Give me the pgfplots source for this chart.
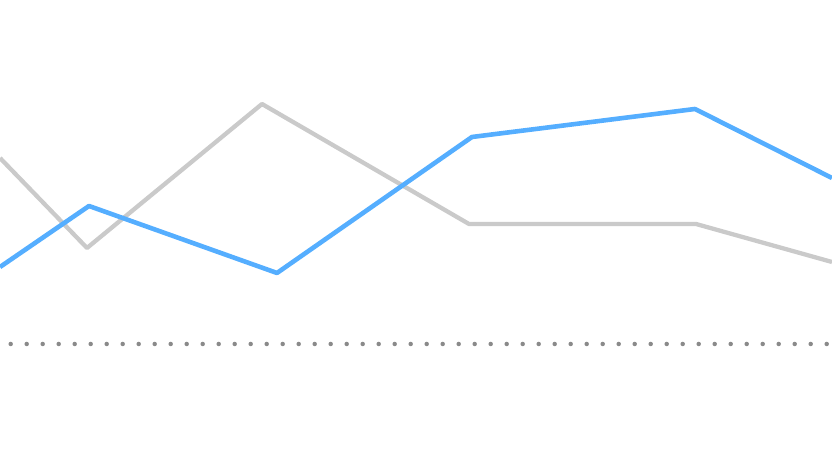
\documentclass[border=0pt]{standalone}
\usepackage{pgfplots}
\pgfplotsset{compat=1.18}
\definecolor{lineblue}{HTML}{55AEFF}
\definecolor{linegray}{HTML}{CACACA}
\definecolor{dotgray}{HTML}{8A8A8A}
\begin{document}
\begin{tikzpicture}
\begin{axis}[
    hide axis,
    scale only axis,
    width=8.32cm, height=4.68cm,
    xmin=0, xmax=832,
    ymin=0, ymax=468,
    y dir=reverse,
    clip=true,
    every axis plot/.append style={line join=round, mark=none},
]
% baseline dots
\addplot[dotgray, line width=0.045cm, line cap=round, dash pattern=on 0pt off 0.16cm]
    coordinates {(10.7,344) (832,344)};
% gray series
\addplot[linegray, line width=0.043cm]
    coordinates {(0,158) (87,248) (262,104) (469,224) (696,224) (832,262)};
% blue series
\addplot[lineblue, line width=0.046cm]
    coordinates {(0,267) (89,206) (277,273) (472,137) (695,109) (832,178)};
\end{axis}
\pgfresetboundingbox
\path (current axis.south west) rectangle (current axis.north east);
\end{tikzpicture}
\end{document}
